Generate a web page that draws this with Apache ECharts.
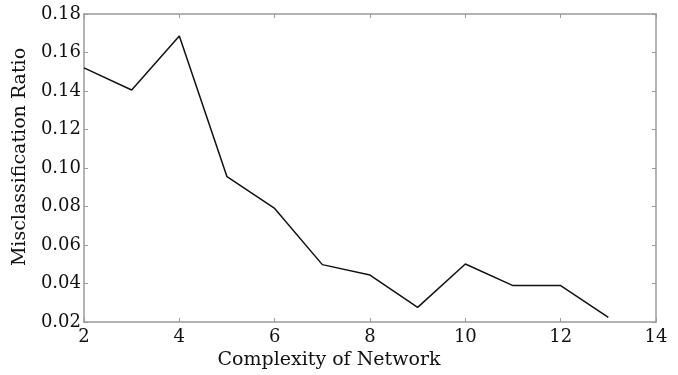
<!DOCTYPE html>
<html>
<head>
<meta charset="utf-8">
<script src="https://cdn.jsdelivr.net/npm/echarts@6/dist/echarts.min.js"></script>
<style>html,body{margin:0;padding:0;background:#fff;}#c{width:678px;height:375px;}</style>
</head>
<body>
<div id="c"></div>
<script>
var complexity = [2, 3, 4, 5, 6, 7, 8, 9, 10, 11, 12, 13];
var misclassRatio = [0.152, 0.1405, 0.1686, 0.0955, 0.079, 0.0498, 0.0444, 0.0276, 0.0501, 0.0389, 0.0389, 0.0224];
var xTitle = 'Complexity of Network';
var yTitle = 'Misclassification Ratio';

var font = 'DejaVu Serif';
var axisGray = '#9a9a9a';
var chart = echarts.init(document.getElementById('c'), null, {renderer: 'canvas'});
var pts = complexity.map(function (x, i) { return [x, misclassRatio[i]]; });

function boxAxis(extra) {
  return Object.assign({
    axisLine: {show: true, lineStyle: {color: axisGray, width: 1.5}},
    axisTick: {show: true, inside: true, length: 4, lineStyle: {color: axisGray}},
    splitLine: {show: false}
  }, extra);
}

chart.setOption({
  animation: false,
  backgroundColor: '#fff',
  grid: {left: 84, right: 22, top: 14, bottom: 53, outerBoundsMode: 'none', containLabel: false},
  xAxis: [
    boxAxis({
      type: 'value', min: 2, max: 14, interval: 2, position: 'bottom',
      name: xTitle, nameLocation: 'middle', nameGap: 29,
      nameTextStyle: {fontFamily: font, fontSize: 19, color: '#111', padding: [0, 82, 0, 0]},
      axisLabel: {fontFamily: font, fontSize: 18, color: '#111', margin: 6}
    }),
    boxAxis({
      type: 'value', min: 2, max: 14, interval: 2, position: 'top',
      axisLabel: {show: false}
    })
  ],
  yAxis: [
    boxAxis({
      type: 'value', min: 0.02, max: 0.18, interval: 0.02, position: 'left',
      name: yTitle, nameLocation: 'middle', nameGap: 53,
      nameTextStyle: {fontFamily: font, fontSize: 19, color: '#111', padding: [0, 0, 0, 22]},
      axisLabel: {fontFamily: font, fontSize: 18, color: '#111', margin: 3,
        formatter: function (v) { return v.toFixed(2); }}
    }),
    boxAxis({
      type: 'value', min: 0.02, max: 0.18, interval: 0.02, position: 'right',
      axisLabel: {show: false}
    })
  ],
  series: [{
    type: 'line',
    data: pts,
    xAxisIndex: 0,
    yAxisIndex: 0,
    showSymbol: false,
    symbol: 'none',
    lineStyle: {color: '#111', width: 1.5}
  }]
});
</script>
</body>
</html>
